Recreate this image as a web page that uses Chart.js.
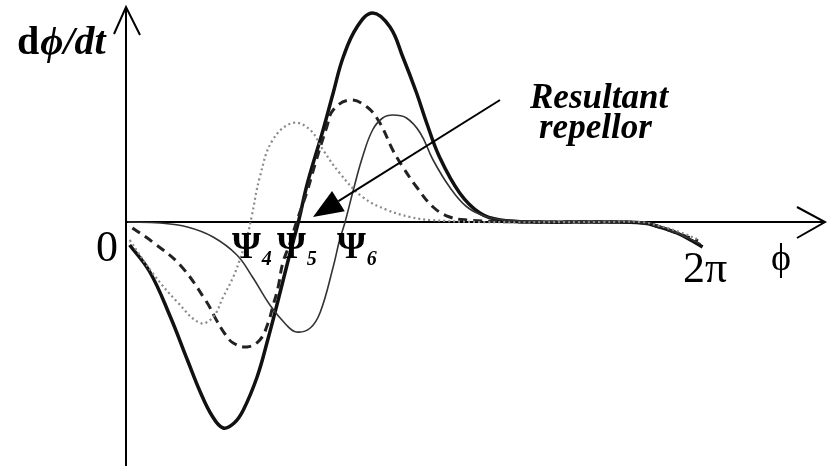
<!DOCTYPE html>
<html>
<head>
<meta charset="utf-8">
<script src="https://cdn.jsdelivr.net/npm/chart.js@4.4.1/dist/chart.umd.min.js"></script>
<style>
  html, body { margin: 0; padding: 0; background: #fff; }
  #wrap { width: 829px; height: 466px; position: relative; }
</style>
</head>
<body>
<div id="wrap"><canvas id="phase"></canvas></div>
<script>
// phase (rad) and dphi/dt samples for each curve
const resultPhi  = [0.04, 0.26, 0.48, 0.67, 0.81, 0.94, 1.06, 1.18, 1.28, 1.43, 1.54, 1.66, 1.77, 1.88, 1.98, 2.15, 2.26, 2.37, 2.52, 2.69, 2.88, 3.02, 3.17, 3.28, 3.42, 3.64, 3.86, 4.08, 4.51, 5.17, 5.64, 5.82, 6.01, 6.18, 6.29];
const resultRate = [-0.23, -0.50, -0.94, -1.38, -1.70, -1.94, -2.06, -2.01, -1.88, -1.55, -1.20, -0.78, -0.38, 0, 0.39, 0.92, 1.29, 1.65, 1.95, 2.09, 1.95, 1.65, 1.29, 0.99, 0.65, 0.29, 0.09, 0.02, 0, 0, -0.01, -0.05, -0.11, -0.19, -0.25];

const psi5Phi  = [0.07, 0.29, 0.59, 0.88, 0.98, 1.08, 1.17, 1.32, 1.46, 1.55, 1.60, 1.66, 1.71, 1.79, 1.86, 1.97, 2.06, 2.19, 2.26, 2.44, 2.63, 2.77, 2.91, 3.02, 3.17, 3.35, 3.53, 3.72, 4.30, 5.17, 5.64, 5.85, 6.04, 6.24];
const psi5Rate = [-0.06, -0.20, -0.43, -0.80, -0.97, -1.12, -1.21, -1.25, -1.18, -1.01, -0.85, -0.65, -0.41, -0.21, 0, 0.29, 0.57, 0.95, 1.12, 1.22, 1.15, 0.99, 0.72, 0.55, 0.35, 0.15, 0.05, 0.02, 0, 0, -0.01, -0.06, -0.12, -0.19];

const psi4Phi  = [0.04, 0.29, 0.56, 0.81, 0.95, 1.06, 1.17, 1.24, 1.32, 1.37, 1.46, 1.60, 1.82, 2.01, 2.15, 2.33, 2.58, 2.85, 3.10, 3.32, 3.86, 5.17, 5.61, 5.82, 6.04, 6.23];
const psi4Rate = [-0.18, -0.51, -0.80, -1.01, -0.95, -0.75, -0.55, -0.38, -0.15, 0.05, 0.45, 0.82, 0.99, 0.92, 0.72, 0.49, 0.25, 0.12, 0.05, 0.02, 0, 0, 0, -0.04, -0.10, -0.17];

const psi6Phi  = [0.02, 0.37, 0.67, 0.95, 1.21, 1.38, 1.57, 1.75, 1.86, 2.01, 2.12, 2.26, 2.33, 2.39, 2.48, 2.58, 2.69, 2.80, 2.91, 3.06, 3.21, 3.35, 3.53, 3.72, 3.94, 4.15, 4.73, 5.64, 5.85, 6.06, 6.27];
const psi6Rate = [0, -0.01, -0.05, -0.15, -0.33, -0.55, -0.83, -1.03, -1.10, -1.06, -0.90, -0.45, -0.18, 0, 0.32, 0.65, 0.92, 1.04, 1.07, 1.04, 0.89, 0.62, 0.35, 0.15, 0.05, 0.02, 0, 0, -0.05, -0.13, -0.22];

// labels
const yTitle = ['d', 'ϕ/dt'];
const xTitle = 'ϕ';
const tickLabels = ['0', '2π'];
const rootLabels = [['Ψ', '4'], ['Ψ', '5'], ['Ψ', '6']];
const noteLines = ['Resultant', 'repellor'];

// pointer from the note to the resultant zero crossing
const noteTail = { x: 4.08, y: 1.22 };
const noteHead = { x: 2.04, y: 0.05 };

const toPoints = (xs, ys) => xs.map((v, i) => ({ x: v, y: ys[i] }));

const sketch = {
  id: 'sketch',
  beforeDatasetsDraw(chart) {
    const { ctx, scales: { x, y } } = chart;
    const x0 = x.getPixelForValue(0), y0 = y.getPixelForValue(0);
    const top = y.getPixelForValue(2.15), end = x.getPixelForValue(7.625);
    ctx.save();
    ctx.strokeStyle = '#000';
    ctx.lineWidth = 2;
    ctx.beginPath();
    ctx.moveTo(x0, chart.height); ctx.lineTo(x0, top);
    ctx.moveTo(x0, y0); ctx.lineTo(end, y0);
    ctx.moveTo(x0 - 12, top + 27); ctx.lineTo(x0, top); ctx.lineTo(x0 + 14, top + 28);
    ctx.moveTo(end - 28, y0 - 15); ctx.lineTo(end, y0); ctx.lineTo(end - 28, y0 + 16);
    ctx.stroke();
    ctx.restore();
  },
  afterDatasetsDraw(chart) {
    const { ctx, scales: { x, y } } = chart;
    ctx.save();
    ctx.fillStyle = '#000';
    ctx.textBaseline = 'alphabetic';

    // y axis title
    ctx.font = 'bold 40px "Liberation Serif"';
    ctx.fillText(yTitle[0], 17, 54);
    const dw = ctx.measureText(yTitle[0]).width;
    ctx.font = 'italic bold 40px "Liberation Serif"';
    ctx.fillText(yTitle[1], 17 + dw + 1, 54);

    // axis ends
    ctx.font = '44px "Liberation Serif"';
    ctx.textAlign = 'right';
    ctx.fillText(tickLabels[0], 118, 261);
    ctx.textAlign = 'left';
    ctx.fillText(tickLabels[1], 683, 282);
    ctx.font = '38px "Liberation Serif"';
    ctx.fillText(xTitle, 771, 270);

    // roots
    const rootX = [232, 277, 337];
    rootLabels.forEach((r, i) => {
      ctx.font = 'bold 37px "Liberation Serif"';
      ctx.fillText(r[0], rootX[i], 258);
      const w = ctx.measureText(r[0]).width;
      ctx.font = 'italic bold 20px "Liberation Serif"';
      ctx.fillText(r[1], rootX[i] + w + 1, 265);
    });

    // note
    ctx.font = 'italic bold 35px "Liberation Serif"';
    ctx.fillText(noteLines[0], 530, 108);
    ctx.fillText(noteLines[1], 539, 138);

    const tx = x.getPixelForValue(noteTail.x), ty = y.getPixelForValue(noteTail.y);
    const hx = x.getPixelForValue(noteHead.x), hy = y.getPixelForValue(noteHead.y);
    const len = Math.hypot(hx - tx, hy - ty);
    const ux = (hx - tx) / len, uy = (hy - ty) / len;
    const bx = hx - ux * 30, by = hy - uy * 30;
    ctx.strokeStyle = '#000';
    ctx.lineWidth = 2;
    ctx.beginPath();
    ctx.moveTo(tx, ty); ctx.lineTo(bx, by);
    ctx.stroke();
    ctx.beginPath();
    ctx.moveTo(hx, hy);
    ctx.lineTo(bx - uy * 12, by + ux * 12);
    ctx.lineTo(bx + uy * 12, by - ux * 12);
    ctx.closePath();
    ctx.fill();
    ctx.restore();
  }
};

new Chart(document.getElementById('phase'), {
  type: 'line',
  data: {
    datasets: [
      {
        label: 'Ψ4',
        data: toPoints(psi4Phi, psi4Rate),
        borderColor: '#8a8a8a',
        borderWidth: 2.2,
        borderDash: [2, 3]
      },
      {
        label: 'Ψ6',
        data: toPoints(psi6Phi, psi6Rate),
        borderColor: '#333',
        borderWidth: 1.6
      },
      {
        label: 'Ψ5',
        data: toPoints(psi5Phi, psi5Rate),
        borderColor: '#222',
        borderWidth: 3,
        borderDash: [9, 6]
      },
      {
        label: 'resultant',
        data: toPoints(resultPhi, resultRate),
        borderColor: '#111',
        borderWidth: 3.5
      }
    ]
  },
  options: {
    responsive: true,
    maintainAspectRatio: false,
    animation: false,
    layout: { padding: 0 },
    elements: {
      point: { radius: 0 },
      line: { tension: 0.4, fill: false }
    },
    scales: {
      x: { type: 'linear', display: false, min: -1.3745, max: 7.669 },
      y: { type: 'linear', display: false, min: -2.44, max: 2.22 }
    },
    plugins: { legend: { display: false }, tooltip: { enabled: false } }
  },
  plugins: [sketch]
});
</script>
</body>
</html>
